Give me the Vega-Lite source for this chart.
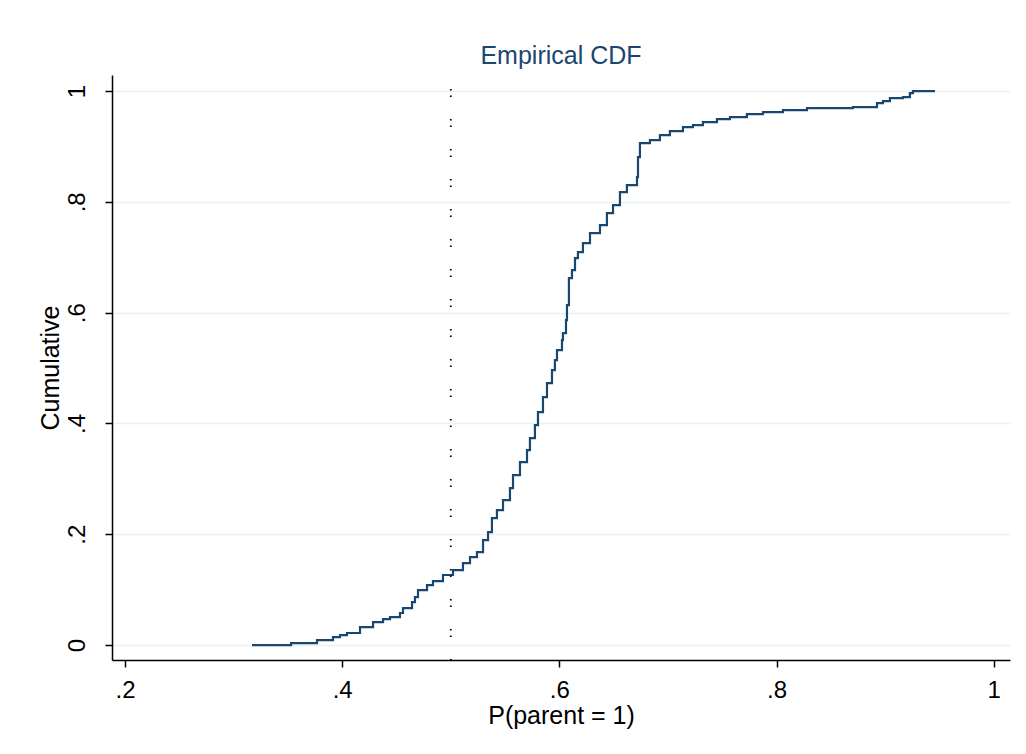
{
  "$schema": "https://vega.github.io/schema/vega-lite/v6.json",
  "width": 898,
  "height": 585,
  "autosize": {"type": "none"},
  "padding": {"left": 112, "top": 75, "right": 16, "bottom": 94},
  "background": "white",
  "config": {
    "view": {"stroke": null},
    "font": "Liberation Sans",
    "axis": {"labelFont": "Liberation Sans", "titleFont": "Liberation Sans", "labelColor": "#000000", "titleColor": "#000000", "domainColor": "#000000", "tickColor": "#000000", "domainWidth": 1.5, "tickWidth": 1.5, "tickSize": 7, "titleFontWeight": "normal", "labelFontSize": 24, "titleFontSize": 25}
  },
  "title": {"text": "Empirical CDF", "color": "#1a476f", "fontSize": 25, "fontWeight": "normal", "font": "Liberation Sans", "offset": 5, "anchor": "middle"},
  "datasets": {
    "cdf": [
      {"p": 0.3169, "cum": 0.0},
      {"p": 0.3529, "cum": 0.0036},
      {"p": 0.3768, "cum": 0.009},
      {"p": 0.3915, "cum": 0.0144},
      {"p": 0.398, "cum": 0.018},
      {"p": 0.4044, "cum": 0.0217},
      {"p": 0.4164, "cum": 0.0325},
      {"p": 0.4284, "cum": 0.0415},
      {"p": 0.4376, "cum": 0.0469},
      {"p": 0.444, "cum": 0.0505},
      {"p": 0.4532, "cum": 0.0578},
      {"p": 0.456, "cum": 0.0668},
      {"p": 0.4643, "cum": 0.0776},
      {"p": 0.467, "cum": 0.0866},
      {"p": 0.4698, "cum": 0.0993},
      {"p": 0.4781, "cum": 0.1083},
      {"p": 0.4836, "cum": 0.1155},
      {"p": 0.4928, "cum": 0.1264},
      {"p": 0.502, "cum": 0.1354},
      {"p": 0.5112, "cum": 0.148},
      {"p": 0.5177, "cum": 0.1588},
      {"p": 0.5241, "cum": 0.1679},
      {"p": 0.5297, "cum": 0.1895},
      {"p": 0.5343, "cum": 0.204},
      {"p": 0.5379, "cum": 0.2292},
      {"p": 0.5425, "cum": 0.2437},
      {"p": 0.5481, "cum": 0.2617},
      {"p": 0.5545, "cum": 0.2834},
      {"p": 0.5573, "cum": 0.3069},
      {"p": 0.5637, "cum": 0.3303},
      {"p": 0.5702, "cum": 0.352},
      {"p": 0.5729, "cum": 0.3736},
      {"p": 0.5775, "cum": 0.3971},
      {"p": 0.5803, "cum": 0.4206},
      {"p": 0.5849, "cum": 0.4477},
      {"p": 0.5886, "cum": 0.4729},
      {"p": 0.5932, "cum": 0.4964},
      {"p": 0.5959, "cum": 0.5144},
      {"p": 0.5978, "cum": 0.5325},
      {"p": 0.6024, "cum": 0.5505},
      {"p": 0.6033, "cum": 0.5632},
      {"p": 0.6061, "cum": 0.5866},
      {"p": 0.607, "cum": 0.6137},
      {"p": 0.6088, "cum": 0.6625},
      {"p": 0.6116, "cum": 0.6769},
      {"p": 0.6144, "cum": 0.6986},
      {"p": 0.6171, "cum": 0.7094},
      {"p": 0.6217, "cum": 0.7256},
      {"p": 0.6282, "cum": 0.7437},
      {"p": 0.6374, "cum": 0.7581},
      {"p": 0.6438, "cum": 0.7798},
      {"p": 0.6494, "cum": 0.7942},
      {"p": 0.6558, "cum": 0.8177},
      {"p": 0.6622, "cum": 0.8303},
      {"p": 0.6715, "cum": 0.8448},
      {"p": 0.6724, "cum": 0.8809},
      {"p": 0.6742, "cum": 0.9061},
      {"p": 0.6834, "cum": 0.9116},
      {"p": 0.6926, "cum": 0.9206},
      {"p": 0.7018, "cum": 0.9278},
      {"p": 0.7138, "cum": 0.935},
      {"p": 0.723, "cum": 0.9386},
      {"p": 0.7322, "cum": 0.944},
      {"p": 0.7451, "cum": 0.9495},
      {"p": 0.7571, "cum": 0.9531},
      {"p": 0.7727, "cum": 0.9585},
      {"p": 0.7875, "cum": 0.9621},
      {"p": 0.8059, "cum": 0.9657},
      {"p": 0.828, "cum": 0.9693},
      {"p": 0.8703, "cum": 0.9711},
      {"p": 0.8925, "cum": 0.9783},
      {"p": 0.898, "cum": 0.9819},
      {"p": 0.9044, "cum": 0.9874},
      {"p": 0.9164, "cum": 0.9892},
      {"p": 0.9228, "cum": 0.9964},
      {"p": 0.9256, "cum": 1.0},
      {"p": 0.9459, "cum": 1.0}
    ],
    "ref": [{"p": 0.5}]
  },
  "layer": [
    {
      "data": {"name": "cdf"},
      "mark": {"type": "line", "interpolate": "step-after", "color": "#1a476f", "strokeWidth": 2.2},
      "encoding": {
        "x": {"field": "p", "type": "quantitative", "scale": {"domain": [0.188, 1.015], "nice": false, "zero": false},
          "axis": {"values": [0.2, 0.4, 0.6, 0.8, 1], "grid": false, "title": "P(parent = 1)", "labelPadding": 11, "titlePadding": 1,
            "labelExpr": "datum.value == 1 ? '1' : replace(format(datum.value, '.1f'), '0.', '.')"}},
        "y": {"field": "cum", "type": "quantitative", "scale": {"domain": [-0.027, 1.029], "nice": false, "zero": false},
          "axis": {"values": [0, 0.2, 0.4, 0.6, 0.8, 1], "grid": true, "gridColor": "#eaf2f3", "gridWidth": 1.5, "title": "Cumulative",
            "labelAngle": 270, "labelAlign": "center", "labelBaseline": "bottom", "labelPadding": 16, "titlePadding": 2,
            "labelExpr": "datum.value == 0 ? '0' : datum.value == 1 ? '1' : replace(format(datum.value, '.1f'), '0.', '.')"}}
      }
    },
    {
      "data": {"name": "ref"},
      "mark": {"type": "rule", "color": "#000000", "strokeWidth": 1.8, "strokeDash": [1.5, 5, 1.5, 22], "strokeDashOffset": -14},
      "encoding": {"x": {"field": "p", "type": "quantitative"}}
    }
  ]
}
